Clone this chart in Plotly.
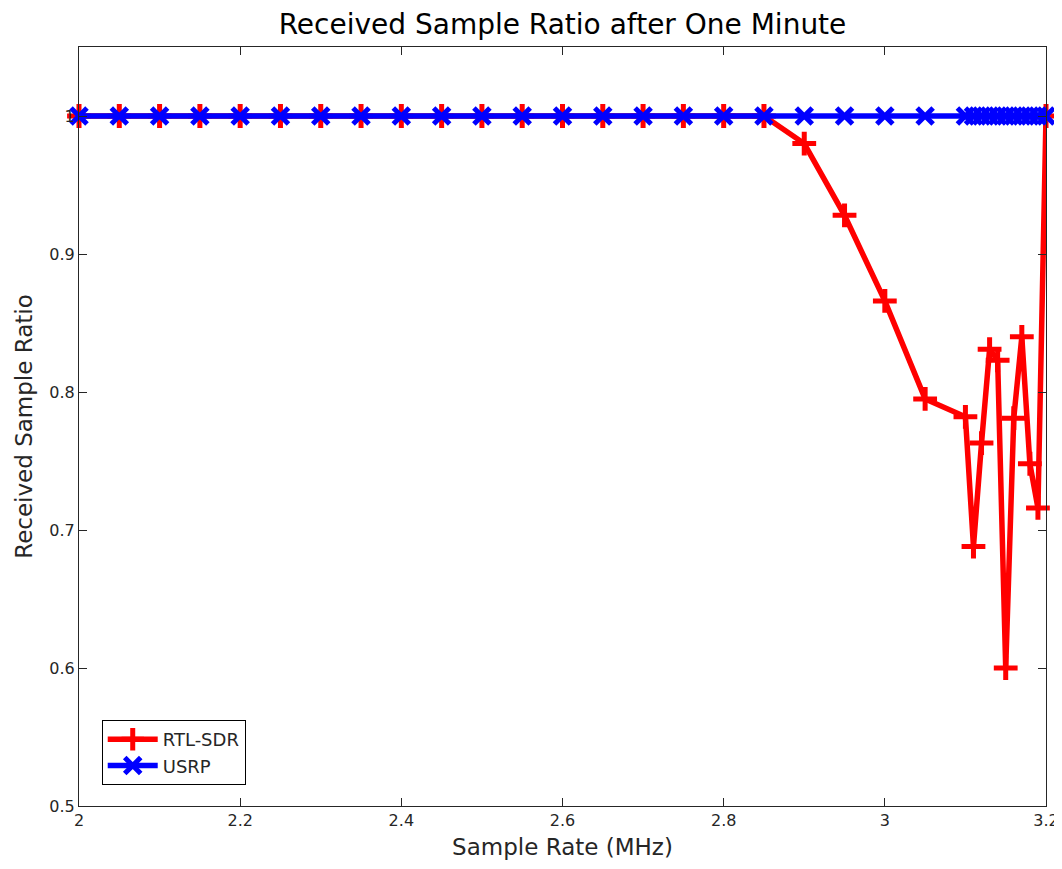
import plotly.graph_objects as go

# Data
rtl_x = [2.00, 2.05, 2.10, 2.15, 2.20, 2.25, 2.30, 2.35, 2.40, 2.45, 2.50, 2.55,
         2.60, 2.65, 2.70, 2.75, 2.80, 2.85, 2.90, 2.95, 3.00, 3.05,
         3.10, 3.11, 3.12, 3.13, 3.14, 3.15, 3.16, 3.17, 3.18, 3.19, 3.20]
rtl_y = [1.0, 1.0, 1.0, 1.0, 1.0, 1.0, 1.0, 1.0, 1.0, 1.0, 1.0, 1.0,
         1.0, 1.0, 1.0, 1.0, 1.0, 1.0, 0.980, 0.928, 0.866, 0.795,
         0.782, 0.688, 0.763, 0.831, 0.823, 0.600, 0.781, 0.840, 0.748, 0.716, 1.0]

usrp_x = [2.00, 2.05, 2.10, 2.15, 2.20, 2.25, 2.30, 2.35, 2.40, 2.45, 2.50, 2.55,
          2.60, 2.65, 2.70, 2.75, 2.80, 2.85, 2.90, 2.95, 3.00, 3.05,
          3.10, 3.11, 3.12, 3.13, 3.14, 3.15, 3.16, 3.17, 3.18, 3.19, 3.20]
usrp_y = [1.0, 1.0, 1.0, 1.0, 1.0, 1.0, 1.0, 1.0, 1.0, 1.0, 1.0, 1.0,
          1.0, 1.0, 1.0, 1.0, 1.0, 1.0, 1.0, 1.0, 1.0, 1.0,
          1.0, 1.0, 1.0, 1.0, 1.0, 1.0, 1.0, 1.0, 1.0, 1.0, 1.0]

x_ticks = [2, 2.2, 2.4, 2.6, 2.8, 3, 3.2]
x_tick_labels = ["2", "2.2", "2.4", "2.6", "2.8", "3", "3.2"]
y_ticks = [0.5, 0.6, 0.7, 0.8, 0.9, 1]
y_tick_labels = ["0.5", "0.6", "0.7", "0.8", "0.9", "1"]

FONT = "DejaVu Sans"
TXT = "#262626"

fig = go.Figure()
fig.add_trace(go.Scatter(
    x=rtl_x, y=rtl_y, name="RTL-SDR", mode="lines+markers",
    line=dict(color="#FF0000", width=5.5),
    marker=dict(symbol="cross-thin", size=17, line=dict(color="#FF0000", width=5)),
    cliponaxis=False,
))
fig.add_trace(go.Scatter(
    x=usrp_x, y=usrp_y, name="USRP", mode="lines+markers",
    line=dict(color="#0000FF", width=5.5),
    marker=dict(symbol="x-thin", size=16, line=dict(color="#0000FF", width=5)),
    cliponaxis=False,
))

axis_common = dict(
    showline=True, linecolor=TXT, linewidth=1, mirror="ticks",
    ticks="inside", ticklen=8, tickcolor=TXT, tickwidth=1,
    showgrid=False, zeroline=False,
    tickfont=dict(family=FONT, size=16, color=TXT),
)

fig.update_layout(
    width=1062, height=869,
    margin=dict(l=71, r=24, t=39, b=71),
    paper_bgcolor="white", plot_bgcolor="white",
    title=dict(text="Received Sample Ratio after One Minute",
               font=dict(family=FONT, size=28, color="black"),
               xref="paper", x=0.5, xanchor="center",
               y=0.981, yanchor="middle"),
    xaxis=dict(range=[2, 3.2], tickvals=x_ticks, ticktext=x_tick_labels,
               title=dict(text="Sample Rate (MHz)",
                          font=dict(family=FONT, size=23, color=TXT), standoff=9),
               **axis_common),
    yaxis=dict(range=[0.5, 1.05], tickvals=y_ticks, ticktext=y_tick_labels,
               layer="above traces",
               title=dict(text="Received Sample Ratio",
                          font=dict(family=FONT, size=23, color=TXT), standoff=10),
               **axis_common),
    legend=dict(x=0.0235, y=0.0277, xanchor="left", yanchor="bottom",
                bgcolor="white", bordercolor="black", borderwidth=1,
                font=dict(family=FONT, size=18, color=TXT),
                tracegroupgap=0, itemwidth=50),
    showlegend=True,
)

fig.write_html("out.html")
